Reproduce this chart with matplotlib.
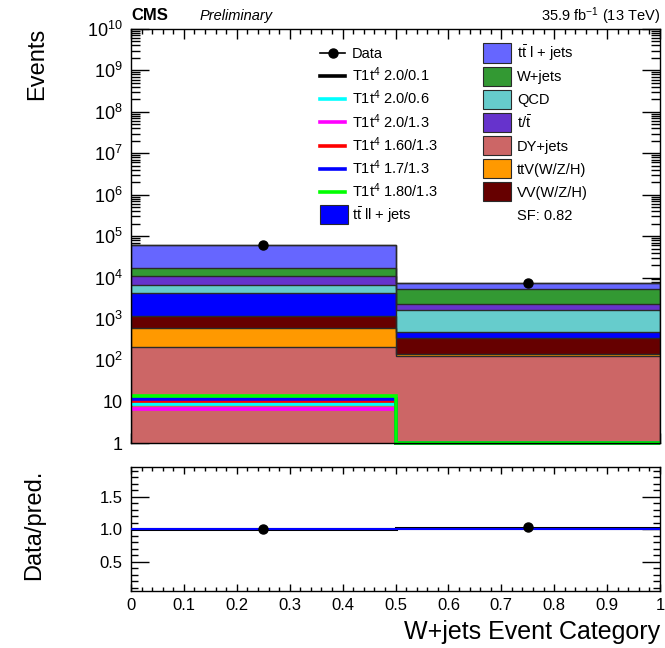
import numpy as np
import matplotlib
matplotlib.use("Agg")
import matplotlib.pyplot as plt
from matplotlib.patches import Rectangle
from matplotlib.lines import Line2D
from matplotlib.ticker import LogLocator, FixedLocator, MultipleLocator, FuncFormatter, NullFormatter

plt.rcParams['font.family'] = ['Liberation Sans', 'DejaVu Sans']
plt.rcParams['mathtext.fontset'] = 'custom'
plt.rcParams['mathtext.rm'] = 'Liberation Sans'
plt.rcParams['mathtext.it'] = 'Liberation Sans:italic'
plt.rcParams['mathtext.bf'] = 'Liberation Sans:bold'

# ---------------- data ----------------
bin_edges = [0.0, 0.5, 1.0]
bin_centers = [0.25, 0.75]

bkg_names = ["DY+jets", "ttV(W/Z/H)", "VV(W/Z/H)", r"$\mathrm{t\bar{t}}$ ll + jets", "QCD",
             r"t/$\mathrm{\bar{t}}$", "W+jets", r"$\mathrm{t\bar{t}}$ l + jets"]
bkg_colors = ["#cc6666", "#ff9900", "#660000", "#0000ff", "#66cccc", "#6633cc", "#339933", "#6666ff"]
dy = [216, 126]
ttv = [404, 21]
vv = [570, 210]
ttll = [3160, 141]
qcd = [2250, 1134]
tt_single = [4400, 732]
wjets = [5600, 3083]
ttl = [43400, 1880]
bkg_values = [dy, ttv, vv, ttll, qcd, tt_single, wjets, ttl]

data_values = [60000, 7550]

sig_names = [r"T1t$^{4}$ 2.0/0.1", r"T1t$^{4}$ 2.0/0.6", r"T1t$^{4}$ 2.0/1.3",
             r"T1t$^{4}$ 1.60/1.3", r"T1t$^{4}$ 1.7/1.3", r"T1t$^{4}$ 1.80/1.3"]
sig_colors = ["#000000", "#00ffff", "#ff00ff", "#ff0000", "#0000ff", "#00ff00"]
sig_values = [[9.5, 0], [8.7, 0], [6.7, 0], [10.5, 0], [12.0, 0], [13.7, 0]]

ratio_line = [1.0, 1.015]
sf_text = "SF: 0.82"

# ---------------- figure ----------------
W, H = 665, 648
fig = plt.figure(figsize=(W / 100, H / 100), dpi=100)

def frac(x0, y0, x1, y1):
    return [x0 / W, 1 - y1 / H, (x1 - x0) / W, (y1 - y0) / H]

def fx(x):
    return x / W

def fy(y):
    return 1 - y / H

ax = fig.add_axes(frac(131, 29, 660, 443.3))
rax = fig.add_axes(frac(131, 467.3, 660, 591))

ymin, ymax = 1.0, 1e10

# stacked backgrounds
bottom = np.zeros(2)
for vals, col in zip(bkg_values, bkg_colors):
    top = bottom + np.array(vals, float)
    base = np.maximum(bottom, ymin * 0.5)
    ax.stairs(top, bin_edges, baseline=base, fill=True, color=col, zorder=2)
    ax.stairs(top, bin_edges, baseline=None, color="#2a2a2a", lw=1.0, zorder=3)
    bottom = top
total = bottom
ax.stairs(total, bin_edges, baseline=ymin * 0.5, fill=False, color="#2a2a2a", lw=1.0, zorder=3)

# signals
for vals, col in zip(sig_values, sig_colors):
    v = np.clip(np.array(vals, float), ymin, None)
    ax.stairs(v, bin_edges, baseline=None, color=col, lw=2.6, zorder=4, clip_on=False)

# data
derr = np.sqrt(np.array(data_values, float))
ax.errorbar(bin_centers, data_values, yerr=derr, fmt='o', color='black', ms=6.5, lw=1, zorder=6)

ax.set_yscale('log')
ax.set_ylim(ymin, ymax)
ax.set_xlim(0, 1)

def logfmt(v, pos):
    e = int(round(np.log10(v)))
    if e == 0:
        return "1"
    if e == 1:
        return "10"
    return r"$\mathrm{10^{%d}}$" % e

ax.yaxis.set_major_locator(LogLocator(base=10, numticks=20))
ax.yaxis.set_minor_locator(LogLocator(base=10, subs=np.arange(2, 10), numticks=100))
ax.yaxis.set_major_formatter(FuncFormatter(logfmt))
ax.yaxis.set_minor_formatter(NullFormatter())
ax.xaxis.set_major_locator(MultipleLocator(0.1))
ax.xaxis.set_minor_locator(MultipleLocator(0.02))
ax.tick_params(axis='both', which='both', direction='in', top=True, right=True, width=1)
ax.tick_params(axis='y', which='major', length=13, labelsize=13, pad=6)
ax.tick_params(axis='y', which='minor', length=6.5)
ax.tick_params(axis='x', which='major', length=7, labelbottom=False)
ax.tick_params(axis='x', which='minor', length=3.6)
for s in ax.spines.values():
    s.set_linewidth(1.0)
    s.set_zorder(10)

fig.text(37 / W, 1 - 28 / H, "Events", rotation=90, ha='center', va='top', fontsize=17)

# header
fig.text(131 / W, 1 - 16 / H, "CMS", fontsize=12, fontweight='bold', ha='left', va='center')
fig.text(200 / W, 1 - 16 / H, "Preliminary", fontsize=10.5, fontstyle='italic', ha='left', va='center')
fig.text(660 / W, 1 - 16 / H, r"35.9 fb$^{-1}$ (13 TeV)", fontsize=10.5, ha='right', va='center')

# legend (drawn in figure pixel layout, ROOT style)
fs = 10.5
row0, drow = 53.0, 23.14
left_labels = ["Data"] + sig_names + [bkg_names[3]]
order_right = [7, 6, 4, 5, 0, 1, 2]
right_labels = [bkg_names[i] for i in order_right] + [sf_text]

for i, lab in enumerate(left_labels):
    yc = row0 + drow * i
    if i == 0:
        fig.add_artist(Line2D([fx(320), fx(345)], [fy(yc), fy(yc)], color='black', lw=1.2,
                              transform=fig.transFigure))
        fig.add_artist(Line2D([fx(332.5)], [fy(yc)], color='black', marker='o', ms=6.5,
                              transform=fig.transFigure))
    elif i <= len(sig_names):
        fig.add_artist(Line2D([fx(320), fx(345)], [fy(yc), fy(yc)], color=sig_colors[i - 1], lw=2.6,
                              transform=fig.transFigure))
    else:
        fig.add_artist(Rectangle((fx(320), fy(yc + 9.5)), 28 / W, 19 / H, facecolor=bkg_colors[3],
                                 edgecolor="#2a2a2a", lw=0.8, transform=fig.transFigure))
    fig.text(fx(352), fy(yc + 5.2), lab, fontsize=fs, ha='left', va='baseline')

for j, lab in enumerate(right_labels):
    yc = row0 + drow * j
    if j < len(order_right):
        fig.add_artist(Rectangle((fx(483), fy(yc + 9.5)), 28 / W, 19 / H,
                                 facecolor=bkg_colors[order_right[j]],
                                 edgecolor="#2a2a2a", lw=0.8, transform=fig.transFigure))
    fig.text(fx(517), fy(yc + 5.2), lab, fontsize=fs, ha='left', va='baseline')

# ratio panel
ratio_pts = np.array(data_values, float) / total
ratio_err = derr / total
rax.stairs(ratio_line, bin_edges, baseline=None, color='black', lw=2.2, zorder=3)
rax.axhline(1.0, color='#0000ff', lw=1.5, zorder=4)
rax.errorbar(bin_centers, ratio_pts, yerr=ratio_err, fmt='o', color='black', ms=6.5, lw=1, zorder=6)
rax.set_xlim(0, 1)
rax.set_ylim(0.05, 1.95)
rax.yaxis.set_major_locator(FixedLocator([0.5, 1.0, 1.5]))
rax.yaxis.set_minor_locator(MultipleLocator(0.1))
rax.yaxis.set_major_formatter(FuncFormatter(lambda v, p: f"{v:.1f}"))
rax.yaxis.set_minor_formatter(NullFormatter())
rax.xaxis.set_major_locator(MultipleLocator(0.1))
rax.xaxis.set_minor_locator(MultipleLocator(0.02))

def xfmt(v, p):
    if abs(v) < 1e-9:
        return "0"
    if abs(v - 1) < 1e-9:
        return "1"
    return f"{v:.1f}"

rax.xaxis.set_major_formatter(FuncFormatter(xfmt))
rax.tick_params(axis='both', which='both', direction='in', top=True, right=True, width=1, labelsize=12)
rax.tick_params(axis='y', which='major', length=13, pad=6)
rax.tick_params(axis='y', which='minor', length=5)
rax.tick_params(axis='x', which='major', length=5, pad=5)
rax.tick_params(axis='x', which='minor', length=3)
for s in rax.spines.values():
    s.set_linewidth(1.0)

fig.text(34 / W, 1 - 525 / H, "Data/pred.", rotation=90, ha='center', va='center', fontsize=17)
fig.text(660 / W, 1 - 632 / H, "W+jets Event Category", ha='right', va='center', fontsize=18)

fig.savefig("out.png", dpi=100)
